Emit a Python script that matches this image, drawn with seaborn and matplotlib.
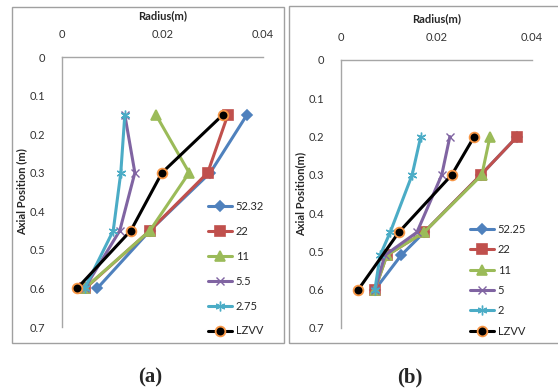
import numpy as np
import pandas as pd
import seaborn as sns
import matplotlib.pyplot as plt
from matplotlib.patches import Rectangle

sns.set_theme(style="white")
plt.rcParams['font.family'] = ['Lato', 'DejaVu Sans']

# panel (a) data
pos_a = [0.15, 0.30, 0.45, 0.60]
labels_a = ["52.32", "22", "11", "5.5", "2.75", "LZVV"]
r_a_5232 = [0.0368, 0.0295, 0.0175, 0.0070]
r_a_22 = [0.0330, 0.0290, 0.0175, 0.0046]
r_a_11 = [0.0187, 0.0253, 0.0175, 0.0045]
r_a_55 = [0.0125, 0.0145, 0.0115, 0.0045]
r_a_275 = [0.0125, 0.0117, 0.0102, 0.0045]
r_a_lzvv = [0.0320, 0.0199, 0.0137, 0.0030]

# panel (b) data
pos_b = [0.20, 0.30, 0.45, 0.51, 0.60]
pos_b_lzvv = [0.20, 0.30, 0.45, 0.60]
labels_b = ["52.25", "22", "11", "5", "2", "LZVV"]
r_b_5225 = [0.0369, 0.0293, 0.0174, 0.0126, 0.0071]
r_b_22 = [0.0369, 0.0293, 0.0174, 0.0096, 0.0071]
r_b_11 = [0.0312, 0.0295, 0.0174, 0.0096, 0.0071]
r_b_5 = [0.0228, 0.0211, 0.0159, 0.0092, 0.0071]
r_b_2 = [0.0167, 0.0149, 0.0103, 0.0082, 0.0071]
r_b_lzvv = [0.0279, 0.0232, 0.0121, 0.0036]

colors = ["#4F81BD", "#C0504D", "#9BBB59", "#8064A2", "#4BACC6", "black"]
markers = ["D", "s", "^", "x", (6, 2, 0), "o"]
msizes = [5, 7, 7, 6, 7, 7]
mews = [1.2, 1.2, 1.2, 1.0, 1.0, 1.3]

fig = plt.figure(figsize=(5.58, 3.89), dpi=100)
W, H = 558, 389


def px_axes(l, t, r, b):
    return fig.add_axes([l / W, 1 - b / H, (r - l) / W, (b - t) / H])


def draw_panel(ax, series, labels, ylab, leg_xy, leg_space):
    for (x, y), lab, c, m, ms, mw in zip(series, labels, colors, markers, msizes, mews):
        mec = "#F79646" if lab == "LZVV" else c
        sns.lineplot(x=x, y=y, ax=ax, color=c, marker=m, markersize=ms,
                     markeredgecolor=mec, markeredgewidth=mw,
                     linewidth=2.2, sort=False, estimator=None, label=lab)
    ax.set_xlim(0, 0.04)
    ax.set_ylim(0.7, 0)
    ax.set_xticks([0, 0.02, 0.04])
    ax.set_xticklabels(["0", "0.02", "0.04"])
    ax.set_yticks(np.arange(0, 0.71, 0.1))
    ax.set_yticklabels([f"{v:g}" for v in np.round(np.arange(0, 0.71, 0.1), 1)])
    ax.xaxis.tick_top()
    ax.xaxis.set_label_position("top")
    ax.tick_params(length=0, labelsize=8, colors="#333333")
    ax.tick_params(axis="x", pad=12)
    ax.tick_params(axis="y", pad=12)
    ax.set_xlabel("Radius(m)", fontsize=8, fontweight="bold", labelpad=7)
    ax.set_ylabel(ylab, fontsize=8, fontweight="bold", labelpad=2)
    for s in ["bottom", "right"]:
        ax.spines[s].set_visible(False)
    for s in ["left", "top"]:
        ax.spines[s].set_color("#A6A6A6")
        ax.spines[s].set_linewidth(1)
    ax.set_facecolor("none")
    ax.legend(loc="upper left", bbox_to_anchor=(leg_xy[0] / W, 1 - leg_xy[1] / H),
              bbox_transform=fig.transFigure, frameon=False, fontsize=8,
              handlelength=2.2, handletextpad=0.3, labelspacing=leg_space,
              borderaxespad=0, borderpad=0)


ax_a = px_axes(62, 57, 263, 327)
series_a = [(r_a_5232, pos_a), (r_a_22, pos_a), (r_a_11, pos_a),
            (r_a_55, pos_a), (r_a_275, pos_a), (r_a_lzvv, pos_a)]
draw_panel(ax_a, series_a, labels_a, "Axial Position (m)", (208, 201), 1.25)

ax_b = px_axes(341, 60, 532, 328)
series_b = [(r_b_5225, pos_b), (r_b_22, pos_b), (r_b_11, pos_b),
            (r_b_5, pos_b), (r_b_2, pos_b), (r_b_lzvv, pos_b_lzvv)]
draw_panel(ax_b, series_b, labels_b, "Axial Position(m)", (470, 224), 0.84)

# chart area borders
fig.patches.append(Rectangle((12 / W, 1 - 343 / H), 272 / W, 336 / H,
                             transform=fig.transFigure, fill=False,
                             edgecolor="#A0A0A0", linewidth=1))
fig.patches.append(Rectangle((289 / W, 1 - 343 / H), 280 / W, 337 / H,
                             transform=fig.transFigure, fill=False,
                             edgecolor="#A0A0A0", linewidth=1))

fig.text(150 / W, 1 - 377 / H, "(a)", ha="center", va="center",
         fontsize=15, fontweight="bold", family="Liberation Serif")
fig.text(410 / W, 1 - 377 / H, "(b)", ha="center", va="center",
         fontsize=15, fontweight="bold", family="Liberation Serif")

fig.savefig("out.png", dpi=100, facecolor="white")
